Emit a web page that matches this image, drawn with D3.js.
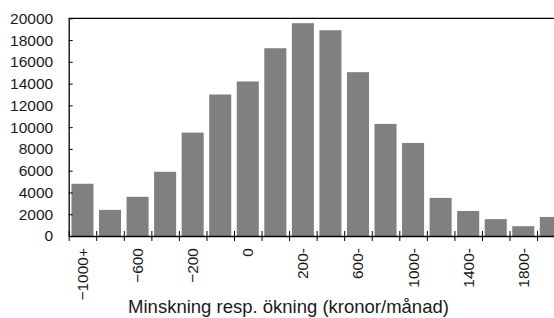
<!DOCTYPE html>
<html>
<head>
<meta charset="utf-8">
<script src="https://cdn.jsdelivr.net/npm/d3@7"></script>
<style>
  body { margin: 0; background: #fff; }
  svg { display: block; font-family: "Liberation Sans", Arial, sans-serif; }
</style>
</head>
<body>
<div class="svgcontainer"></div>
<script>
// bar counts per interval, left to right
const counts = [4800, 2400, 3600, 5900, 9500, 13000, 14200, 17250, 19550, 18900,
                15050, 10300, 8550, 3500, 2300, 1550, 900, 1750];
// only every other interval is labelled in the original
const xLabels = ["\u22121000+", "", "\u2212600", "", "\u2212200", "", "0", "", "200-", "",
                 "600-", "", "1000-", "", "1400-", "", "1800-", ""];
const yTicks = [0, 2000, 4000, 6000, 8000, 10000, 12000, 14000, 16000, 18000, 20000];
const xTitle = "Minskning resp. ökning (kronor/månad)";

function drawHist() {
    const width = 554, height = 318;
    const left = 68.7, top = 18.3, bottom = 236;
    const right = left + counts.length * 27.55;  // plot runs past the window edge

    const svg = d3.select('.svgcontainer')
        .append('svg')
        .attr('width', width)
        .attr('height', height);

    const idx = d3.range(counts.length);
    const x = d3.scaleBand()
        .domain(idx)
        .range([left, right])
        .paddingInner(0.2)
        .paddingOuter(0.1);

    const y = d3.scaleLinear()
        .domain([0, 20000])
        .range([bottom, top]);

    // bars
    svg.selectAll('.bar')
        .data(counts)
        .enter()
        .append('rect')
        .attr('class', 'bar')
        .attr('x', (d, i) => x(i))
        .attr('width', x.bandwidth())
        .attr('y', d => y(d))
        .attr('height', d => bottom - y(d))
        .attr('fill', '#808080');

    // top frame line
    svg.append('line')
        .attr('x1', left).attr('x2', right)
        .attr('y1', top).attr('y2', top)
        .attr('stroke', '#000')
        .attr('stroke-width', 1.2);

    // y axis, ticks pointing inward
    const gy = svg.append('g')
        .attr('transform', `translate(${left},0)`)
        .call(d3.axisLeft(y)
            .tickValues(yTicks)
            .tickFormat(d3.format('d'))
            .tickSizeInner(-4)
            .tickSizeOuter(0)
            .tickPadding(15.5));
    gy.select('.domain').attr('stroke', '#000').attr('stroke-width', 1.3);
    gy.selectAll('.tick line').attr('stroke', '#000');
    gy.selectAll('.tick text')
        .attr('font-size', 15.5)
        .attr('fill', '#1a1a1a')
        .attr('font-family', '"Liberation Sans", Arial, sans-serif');

    // x axis: ticks on interval boundaries
    const xb = d3.scaleLinear().domain([0, counts.length]).range([left, right]);
    const gx = svg.append('g')
        .attr('transform', `translate(0,${bottom})`)
        .call(d3.axisBottom(xb)
            .tickValues(d3.range(counts.length + 1))
            .tickFormat('')
            .tickSizeOuter(0));
    gx.select('.domain').attr('stroke', '#000').attr('stroke-width', 1.3);
    gx.selectAll('.tick line')
        .attr('y1', -5)
        .attr('y2', 5)
        .attr('stroke', '#000');

    // rotated interval labels under bar centres
    svg.selectAll('.xlab')
        .data(xLabels)
        .enter()
        .append('text')
        .attr('class', 'xlab')
        .attr('transform', (d, i) => `translate(${x(i) + x.bandwidth() / 2},248) rotate(-90)`)
        .attr('text-anchor', 'end')
        .attr('dy', '0.35em')
        .attr('font-size', 15.5)
        .attr('fill', '#1a1a1a')
        .text(d => d);

    // axis title
    svg.append('text')
        .attr('x', 288.5)
        .attr('y', 313)
        .attr('text-anchor', 'middle')
        .attr('font-size', 18.5)
        .attr('fill', '#1a1a1a')
        .text(xTitle);
}

drawHist();
</script>
</body>
</html>
